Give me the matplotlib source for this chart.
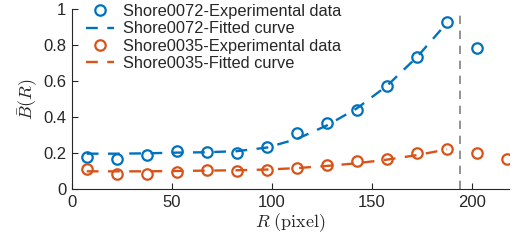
import matplotlib
matplotlib.use("Agg")
import matplotlib.pyplot as plt

plt.rcParams['font.family'] = ['Liberation Sans', 'DejaVu Sans']
plt.rcParams['mathtext.fontset'] = 'cm'

R = [7.5, 22.5, 37.5, 52.5, 67.5, 82.5, 97.5, 112.5, 127.5, 142.5, 157.5, 172.5, 187.5, 202.5, 217.5]
b72_exp = [0.181, 0.167, 0.189, 0.214, 0.205, 0.200, 0.237, 0.315, 0.367, 0.440, 0.574, 0.733, 0.929, 0.785]
b72_fit = [0.198, 0.198, 0.200, 0.204, 0.206, 0.212, 0.232, 0.280, 0.355, 0.450, 0.575, 0.735, 0.925]
b35_exp = [0.111, 0.085, 0.083, 0.094, 0.107, 0.103, 0.107, 0.117, 0.137, 0.157, 0.167, 0.200, 0.222, 0.200, 0.167]
b35_fit = [0.100, 0.100, 0.100, 0.102, 0.104, 0.106, 0.110, 0.118, 0.130, 0.145, 0.165, 0.190, 0.222]
R_cut = 194
labels = ['Shore0072-Experimental data', 'Shore0072-Fitted curve',
          'Shore0035-Experimental data', 'Shore0035-Fitted curve']

blue = '#0072BD'
orange = '#D95319'

fig = plt.figure(figsize=(5.14, 2.44), dpi=100)
ax = fig.add_axes([0.1395, 0.224, 0.851, 0.738])

ax.plot(R[:len(b72_exp)], b72_exp, 'o', mfc='none', mec=blue, ms=7.5, mew=1.6, label=labels[0])
ax.plot(R[:len(b72_fit)], b72_fit, '--', color=blue, lw=1.7, dashes=(5, 4), label=labels[1])
ax.plot(R[:len(b35_exp)], b35_exp, 'o', mfc='none', mec=orange, ms=7.5, mew=1.6, label=labels[2])
ax.plot(R[:len(b35_fit)], b35_fit, '--', color=orange, lw=1.7, dashes=(5, 4), label=labels[3])
ax.axvline(R_cut, color='#808080', ls='--', lw=1.2, dashes=(5, 4))

ax.set_xlim(0, 218.5)
ax.set_ylim(0, 1)
ax.set_xticks([0, 50, 100, 150, 200])
ax.set_yticks([0, 0.2, 0.4, 0.6, 0.8, 1])
ax.set_yticklabels(['0', '0.2', '0.4', '0.6', '0.8', '1'])
ax.spines['top'].set_visible(False)
ax.spines['right'].set_visible(False)
for s in ['left', 'bottom']:
    ax.spines[s].set_color('#262626')
    ax.spines[s].set_linewidth(0.8)
ax.tick_params(direction='in', length=4, labelsize=12, colors='#262626', labelcolor='#262626', pad=4)
ax.set_xlabel(r'$R$ $\mathrm{(pixel)}$', fontsize=13, color='#262626', labelpad=1)
ax.set_ylabel(r'$\bar{B}(R)$', fontsize=13, color='#262626', labelpad=2)

leg = ax.legend(loc='upper left', bbox_to_anchor=(0.01, 1.085), frameon=False,
                fontsize=11.8, handlelength=1.7, handletextpad=0.55, labelspacing=0.15,
                borderaxespad=0.2)
for t in leg.get_texts():
    t.set_color('#262626')

fig.savefig('out.png', dpi=100)
